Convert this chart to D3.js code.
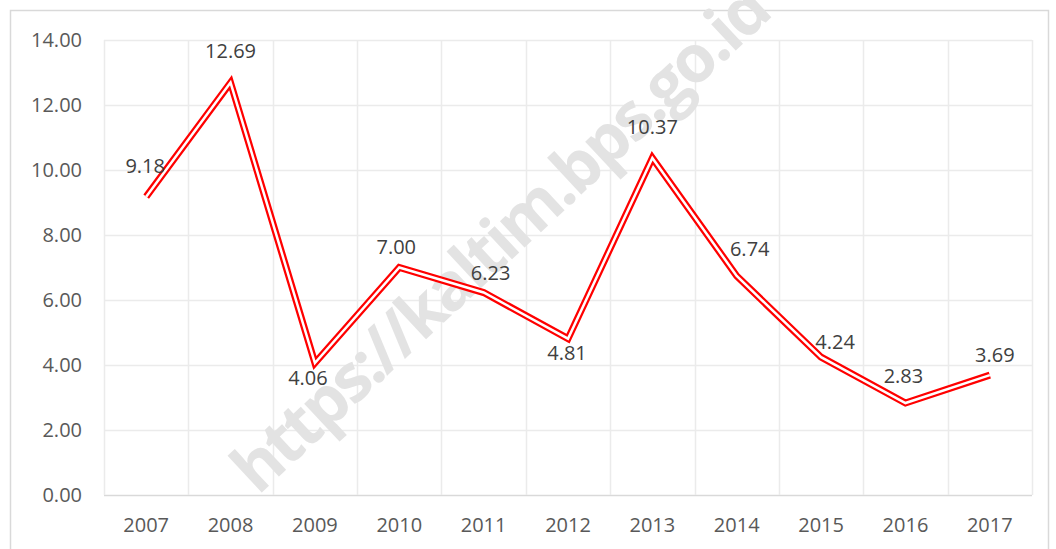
<!DOCTYPE html>
<html>
<head>
<meta charset="utf-8">
<script src="https://cdn.jsdelivr.net/npm/d3@7"></script>
<style>
  body { margin: 0; background: #fff; }
  text { font-family: "Open Sans", "Noto Sans", sans-serif; }
</style>
</head>
<body>
<script>
var years = ["2007", "2008", "2009", "2010", "2011", "2012", "2013", "2014", "2015", "2016", "2017"];
var values = [9.18, 12.69, 4.06, 7.00, 6.23, 4.81, 10.37, 6.74, 4.24, 2.83, 3.69];
var yTicks = [0, 2, 4, 6, 8, 10, 12, 14];
// where Excel put each data label, relative to its point
var labelOffsets = [[-1, -31], [0, -32], [-7, 15], [-3, -21], [7, -20], [-1, 14], [0, -31], [13, -27], [14, -15], [-2, -27], [5, -20]];

var width = 1056, height = 549;
var plotLeft = 104, plotRight = 1032, plotTop = 40, plotBottom = 495;

var svg = d3.select("body").append("svg").attr("width", width).attr("height", height);

svg.append("rect").attr("x", 10.5).attr("y", 10.5).attr("width", 1038).attr("height", 560)
  .attr("fill", "none").attr("stroke", "#d9d9d9").attr("stroke-width", 1.5);

var x = d3.scaleBand().domain(years).range([plotLeft, plotRight]);
var y = d3.scaleLinear().domain([0, 14]).range([plotBottom, plotTop]);

// horizontal grid
svg.append("g").selectAll("line").data(yTicks).join("line")
  .attr("x1", plotLeft).attr("x2", plotRight)
  .attr("y1", d => Math.round(y(d)) + 0.5).attr("y2", d => Math.round(y(d)) + 0.5)
  .attr("stroke", d => d === 0 ? "#d9d9d9" : "#ebebeb").attr("stroke-width", 1.5);

// vertical grid at band edges
var edges = years.map(d => x(d)).concat([plotRight]);
svg.append("g").selectAll("line").data(edges).join("line")
  .attr("x1", d => Math.round(d) + 0.5).attr("x2", d => Math.round(d) + 0.5)
  .attr("y1", plotTop).attr("y2", plotBottom)
  .attr("stroke", "#ebebeb").attr("stroke-width", 1.5);

// y labels
svg.append("g").selectAll("text").data(yTicks).join("text")
  .attr("x", 82).attr("y", d => y(d)).attr("dy", "0.35em")
  .attr("text-anchor", "end").attr("font-size", 20).attr("fill", "#595959")
  .text(d => d3.format(".2f")(d));

// x labels
svg.append("g").selectAll("text").data(years).join("text")
  .attr("x", d => x(d) + x.bandwidth() / 2).attr("y", 525).attr("dy", "0.35em")
  .attr("text-anchor", "middle").attr("font-size", 20).attr("fill", "#595959")
  .text(d => d);

// watermark
svg.append("text")
  .attr("transform", "translate(258,496) rotate(-43)")
  .attr("font-size", 66).attr("font-weight", "bold").attr("fill", "#e3e3e3")
  .attr("letter-spacing", -3)
  .text("https://kaltim.bps.go.id");

// double red line
var line = d3.line().x((d, i) => x(years[i]) + x.bandwidth() / 2).y(d => y(d));
svg.append("path").datum(values).attr("d", line)
  .attr("fill", "none").attr("stroke", "#ff0000").attr("stroke-width", 7);
svg.append("path").datum(values).attr("d", line)
  .attr("fill", "none").attr("stroke", "#ffffff").attr("stroke-width", 2.5);

// data labels
svg.append("g").selectAll("text").data(values).join("text")
  .attr("x", (d, i) => x(years[i]) + x.bandwidth() / 2 + labelOffsets[i][0])
  .attr("y", (d, i) => y(d) + labelOffsets[i][1]).attr("dy", "0.35em")
  .attr("text-anchor", "middle").attr("font-size", 20).attr("fill", "#404040")
  .text(d => d3.format(".2f")(d));
</script>
</body>
</html>
